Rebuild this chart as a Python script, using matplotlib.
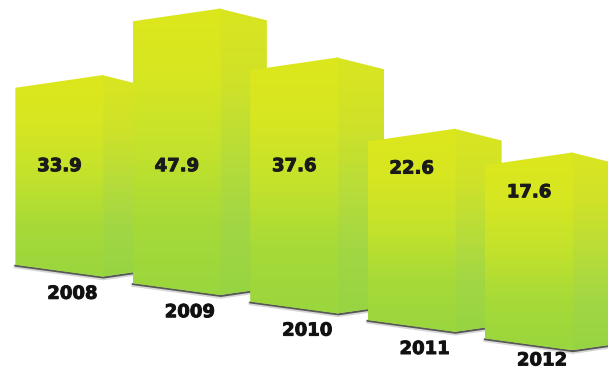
import numpy as np
import matplotlib
matplotlib.use("Agg")
import matplotlib.pyplot as plt
import matplotlib.patheffects as pe
from matplotlib.patches import Polygon
from matplotlib.colors import LinearSegmentedColormap

# Data
years = ["2008", "2009", "2010", "2011", "2012"]
values = [33.9, 47.9, 37.6, 22.6, 17.6]
value_labels = ["33.9", "47.9", "37.6", "22.6", "17.6"]

# Box layout (in axis units)
FACE_W = 0.75          # width of the wide (left) face
SIDE_W = 0.392         # width of the narrow (right) face
TOP_DROP_L = 2.7       # perspective: left top corner below the near edge
TOP_DROP_R = 2.5
BOT_RISE_L = 2.5       # perspective: left bottom corner above the near edge
BOT_RISE_R = 1.4
FLOOR0 = -8.59         # base of the first box
FLOOR_STEP = -3.874    # each box stands a little lower
LABEL_LEVEL = 14.7
LABEL_GAP = 8.4
YEAR_GAP = 3.58
YEAR_FLOOR = -26.2

front_cmap = LinearSegmentedColormap.from_list(
    "front", ["#9ad63e", "#a6da38", "#c3e22c", "#d6e622", "#dde71c"])
side_cmap = LinearSegmentedColormap.from_list(
    "side", ["#97d442", "#a2d744", "#b9dd38", "#d0e228", "#d9e520"])

fig = plt.figure(figsize=(6.08, 3.70), dpi=100)
ax = fig.add_axes([0, 0, 1, 1])
ax.axis("off")

grad = np.linspace(0, 1, 256).reshape(-1, 1)
grad = np.repeat(grad, 8, axis=1)

bold = [pe.withStroke(linewidth=0.7, foreground="#1a1a1a")]


def shaded_face(pts, cmap, z, ylo, yhi):
    poly = Polygon(pts, closed=True, facecolor="none", edgecolor="none",
                   transform=ax.transData, zorder=z)
    ax.add_patch(poly)
    xs = [p[0] for p in pts]
    im = ax.imshow(grad, extent=[min(xs), max(xs), ylo, yhi], origin="lower",
                   cmap=cmap, aspect="auto", interpolation="bicubic", zorder=z)
    im.set_clip_path(poly)


for i, (yr, v, lab) in enumerate(zip(years, values, value_labels)):
    z = 2 + i * 4
    left, near, right = i - FACE_W / 2, i + FACE_W / 2, i + FACE_W / 2 + SIDE_W
    base = FLOOR0 + FLOOR_STEP * i
    lt, rt = v - TOP_DROP_L, v - TOP_DROP_R
    lb, rb = base + BOT_RISE_L, base + BOT_RISE_R

    # soft shadow along the foot of the box
    ax.plot([left, near, right], [lb - 0.3, base - 0.3, rb - 0.3],
            color="#333333", lw=3.0, alpha=0.2, solid_capstyle="round", zorder=z)
    ax.plot([left, near, right], [lb - 0.15, base - 0.15, rb - 0.15],
            color="#222222", lw=1.5, alpha=0.7, solid_capstyle="round", zorder=z)

    # narrow face first, tucked slightly under the wide face
    seam = 0.015
    shaded_face([(near - seam, base), (near - seam, v), (right, rt), (right, rb)],
                side_cmap, z + 1, base, v)
    shaded_face([(left, lb), (left, lt), (near, v), (near, base)],
                front_cmap, z + 2, base, v)

    ax.text(i, min(LABEL_LEVEL, v - LABEL_GAP), lab, ha="center", va="center",
            fontsize=13, fontweight="bold", family="DejaVu Sans",
            color="#1a1a1a", zorder=z + 3, path_effects=bold)
    ax.text(i + 0.11, max(base - YEAR_GAP, YEAR_FLOOR), yr, ha="center",
            va="center", fontsize=13, fontweight="bold", family="DejaVu Sans",
            color="#111111", zorder=z + 3, path_effects=bold)

ax.set_xlim(-0.506, 4.673)
ax.set_ylim(-28.21, 49.68)

fig.savefig("out.png", dpi=100, facecolor="white")
